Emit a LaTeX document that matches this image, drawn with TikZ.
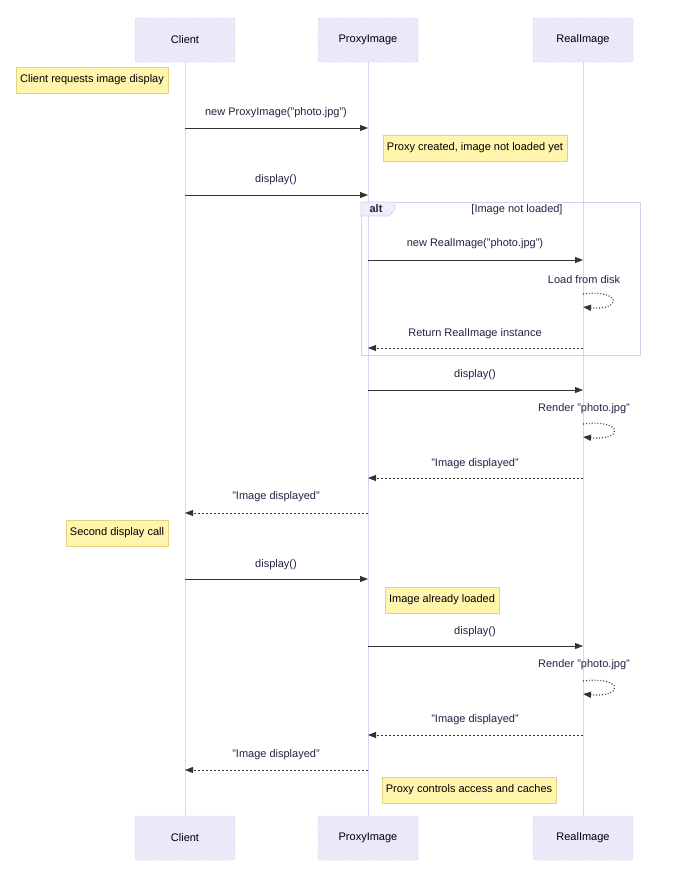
\documentclass[tikz,border=0pt]{standalone}
\usepackage{fontspec}
\setmainfont{Liberation Sans}
\usepackage{tikz}
\usetikzlibrary{arrows.meta,patterns}
\definecolor{actfill}{HTML}{EFEFFC}
\definecolor{actline}{HTML}{D6CFF0}
\definecolor{lifeln}{HTML}{DCD3F2}
\definecolor{notefill}{HTML}{FFF5AD}
\definecolor{noteline}{HTML}{E3D27E}
\definecolor{msgcol}{HTML}{333333}
\definecolor{txtcol}{HTML}{222244}

\tikzset{
  actor/.style={draw=actline, fill=actfill, rounded corners=2pt, minimum width=100pt,
    minimum height=44pt, postaction={pattern=north east lines, pattern color=actline!70}},
  note/.style={draw=noteline, fill=notefill, minimum height=26pt, inner xsep=4pt},
  msg/.style={draw=msgcol, line width=0.9pt, -{Triangle[length=8pt,width=6pt]}},
  ret/.style={msg, dashed, dash pattern=on 2.5pt off 1.5pt},
  self/.style={msg, dotted, line width=1.2pt},
  lbl/.style={text=txtcol}
}

\begin{document}
\begin{tikzpicture}[x=1pt,y=-1pt,font=\fontsize{11}{13}\selectfont]
\useasboundingbox (0,0) rectangle (676,870);

% actors
\node [actor] (cl) at (185,40) {Client};
\node [actor] (px) at (368,40) {ProxyImage};
\node [actor] (ri) at (583,40) {RealImage};
\node [actor] (clb) at (185,838) {Client};
\node [actor] (pxb) at (368,838) {ProxyImage};
\node [actor] (rib) at (583,838) {RealImage};

% lifelines
\draw [lifeln, line width=1pt] (cl) -- (clb);
\draw [lifeln, line width=1pt] (px) -- (pxb);
\draw [lifeln, line width=1pt] (ri) -- (rib);

% alt frame
\draw [actline, line width=0.8pt] (361,202) rectangle (640,355);
\draw [actline, fill=actfill, line width=0.8pt] (361,202) -- (395,202) -- (395,209) -- (389,216) -- (361,216) -- cycle;
\node [lbl, font=\fontsize{11}{13}\selectfont\bfseries] (altt) at (376,209) {alt};
\node [lbl] (altc) at (517,210) {[Image not loaded]};

% notes
\node [note] (n1) at (92,80) {Client requests image display};
\node [note] (n2) at (475,148) {Proxy created, image not loaded yet};
\node [note] (n3) at (117,533) {Second display call};
\node [note] (n4) at (442,600) {Image already loaded};
\node [note] (n5) at (469,790) {Proxy controls access and caches};

% first call
\node [lbl] at (276,113) {new ProxyImage("photo.jpg")};
\draw [msg] (cl |- 0,128) -- (px |- 0,128);
\node [lbl] at (276,180) {display()};
\draw [msg] (cl |- 0,195) -- (px |- 0,195);

\node [lbl] at (475,244) {new RealImage("photo.jpg")};
\draw [msg] (px |- 0,260) -- (ri |- 0,260);
\node [lbl] at (584,280) {Load from disk};
\draw [self] (ri |- 0,294) .. controls (622,289) and (622,311) .. (ri |- 0,307);
\node [lbl] at (475,334) {Return RealImage instance};
\draw [ret] (ri |- 0,348) -- (px |- 0,348);

\node [lbl] at (475,375) {display()};
\draw [msg] (px |- 0,390) -- (ri |- 0,390);
\node [lbl] at (584,409) {Render "photo.jpg"};
\draw [self] (ri |- 0,424) .. controls (624,419) and (624,441) .. (ri |- 0,437);
\node [lbl] at (475,464) {"Image displayed"};
\draw [ret] (ri |- 0,478) -- (px |- 0,478);
\node [lbl] at (276,497) {"Image displayed"};
\draw [ret] (px |- 0,513) -- (cl |- 0,513);

% second call
\node [lbl] at (276,565) {display()};
\draw [msg] (cl |- 0,579) -- (px |- 0,579);
\node [lbl] at (475,632) {display()};
\draw [msg] (px |- 0,646) -- (ri |- 0,646);
\node [lbl] at (584,665) {Render "photo.jpg"};
\draw [self] (ri |- 0,681) .. controls (624,676) and (624,698) .. (ri |- 0,694);
\node [lbl] at (475,720) {"Image displayed"};
\draw [ret] (ri |- 0,735) -- (px |- 0,735);
\node [lbl] at (276,755) {"Image displayed"};
\draw [ret] (px |- 0,770) -- (cl |- 0,770);

\end{tikzpicture}
\end{document}
